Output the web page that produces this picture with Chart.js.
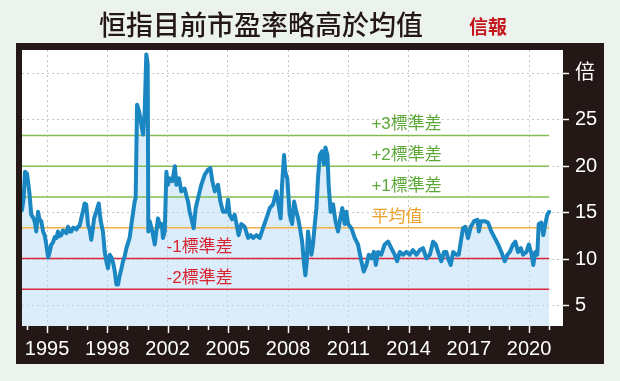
<!DOCTYPE html>
<html>
<head>
<meta charset="utf-8">
<title>恒指目前市盈率略高於均值</title>
<script src="https://cdn.jsdelivr.net/npm/chart.js@4.4.0/dist/chart.umd.min.js"></script>
<style>
  html, body { margin: 0; padding: 0; background: #ecf3ee; }
  canvas { display: block; }
</style>
</head>
<body>
<canvas id="peChart" width="620" height="381"></canvas>
<script>
const chartTitle = '恒指目前市盈率略高於均值';
const sourceName = '信報';

// position of each reading along the time axis (one unit per small tick mark)
const period = [
  -0.25, -0.17, -0.10, 0.00, 0.07, 0.13, 0.21, 0.30, 0.38, 0.46,
  0.55, 0.62, 0.71, 0.80, 0.88, 0.96, 1.05, 1.13, 1.21, 1.29,
  1.38, 1.47, 1.54, 1.62, 1.71, 1.79, 1.88, 1.96, 2.04, 2.13,
  2.21, 2.29, 2.38, 2.46, 2.54, 2.62, 2.70, 2.79, 2.87, 2.95,
  3.04, 3.12, 3.20, 3.26, 3.34, 3.45, 3.57, 3.67, 3.78, 3.87,
  3.95, 4.03, 4.12, 4.23, 4.30, 4.37, 4.45, 4.53, 4.62, 4.70,
  4.78, 4.86, 4.95, 5.11, 5.24, 5.36, 5.41, 5.48, 5.58, 5.69,
  5.78, 5.86, 5.94, 6.01, 6.04, 6.11, 6.18, 6.24, 6.36, 6.44,
  6.52, 6.64, 6.71, 6.77, 6.86, 6.94, 7.02, 7.11, 7.24, 7.36,
  7.44, 7.57, 7.68, 7.85, 7.94, 8.02, 8.10, 8.18, 8.30, 8.40,
  8.52, 8.68, 8.85, 9.01, 9.13, 9.23, 9.35, 9.51, 9.63, 9.76,
  9.93, 10.01, 10.09, 10.21, 10.34, 10.47, 10.54, 10.67, 10.84, 11.01,
  11.14, 11.26, 11.42, 11.59, 11.75, 11.92, 12.09, 12.25, 12.42, 12.50,
  12.63, 12.70, 12.80, 12.86, 12.96, 13.08, 13.20, 13.30, 13.41, 13.50,
  13.58, 13.70, 13.80, 13.86, 13.93, 13.99, 14.08, 14.16, 14.24, 14.33,
  14.41, 14.49, 14.58, 14.69, 14.79, 14.86, 14.96, 15.02, 15.12, 15.24,
  15.36, 15.49, 15.60, 15.70, 15.82, 15.90, 15.99, 16.15, 16.32, 16.48,
  16.65, 16.77, 16.90, 17.02, 17.15, 17.27, 17.37, 17.48, 17.64, 17.81,
  17.98, 18.14, 18.31, 18.43, 18.56, 18.73, 18.89, 19.06, 19.22, 19.39,
  19.56, 19.72, 19.89, 20.06, 20.22, 20.35, 20.47, 20.63, 20.77, 20.88,
  20.97, 21.10, 21.22, 21.38, 21.50, 21.60, 21.71, 21.83, 21.96, 22.10,
  22.26, 22.43, 22.50, 22.60, 22.79, 22.96, 23.12, 23.29, 23.46, 23.62,
  23.79, 23.92, 24.04, 24.20, 24.32, 24.45, 24.59, 24.70, 24.87, 24.99,
  25.12, 25.21, 25.31, 25.41, 25.48, 25.61, 25.71, 25.81, 25.91, 26.00
];

// Hang Seng Index P/E (倍)
const pe = [
  15.3, 16.5, 19.4, 19.2, 18.0, 16.9, 14.8, 14.5, 14.1, 13.0,
  15.1, 14.3, 14.1, 13.0, 12.6, 11.6, 10.2, 10.8, 11.6, 11.8,
  12.4, 12.3, 13.0, 12.5, 12.6, 13.1, 13.0, 12.8, 13.5, 13.0,
  13.0, 13.4, 13.35, 13.2, 13.5, 13.6, 14.4, 15.2, 16.0, 15.9,
  13.7, 13.2, 12.1, 13.0, 14.4, 15.1, 16.0, 14.1, 13.0, 10.8,
  9.8, 9.05, 10.5, 10.1, 9.5, 8.7, 7.3, 7.3, 8.3, 9.0,
  9.8, 10.3, 11.2, 12.3, 14.4, 16.2, 16.6, 26.6, 25.9, 24.5,
  23.4, 25.9, 32.0, 30.9, 13.0, 14.1, 13.5, 13.0, 11.6, 13.0,
  14.4, 13.5, 13.8, 12.3, 13.0, 19.4, 18.0, 18.7, 18.4, 20.0,
  18.0, 18.7, 17.3, 17.6, 16.8, 16.2, 15.1, 14.4, 13.35, 15.5,
  16.6, 18.0, 19.1, 19.6, 19.8, 18.4, 17.3, 18.0, 16.2, 15.1,
  15.1, 16.4, 14.8, 14.3, 14.8, 13.35, 12.6, 13.8, 13.5, 12.3,
  12.6, 12.3, 12.6, 12.3, 13.35, 14.4, 15.5, 15.9, 17.3, 16.2,
  14.4, 18.0, 21.2, 19.4, 18.7, 14.8, 13.8, 16.2, 15.1, 14.4,
  13.5, 11.9, 9.4, 8.3, 9.8, 13.0, 11.6, 10.5, 11.6, 13.8,
  15.5, 18.7, 21.2, 21.6, 20.2, 22.0, 21.2, 18.0, 15.1, 15.9,
  14.1, 13.0, 14.4, 15.5, 13.8, 15.1, 13.8, 13.35, 12.3, 11.6,
  9.8, 8.7, 9.4, 10.5, 10.1, 10.8, 9.4, 10.8, 10.5, 11.6,
  11.9, 11.2, 10.5, 9.8, 10.8, 10.5, 10.8, 10.5, 11.0, 10.5,
  11.0, 11.2, 10.1, 10.5, 11.9, 11.6, 10.8, 9.8, 10.8, 10.8,
  10.1, 9.4, 10.8, 10.5, 10.5, 11.9, 13.35, 13.5, 12.3, 13.5,
  14.1, 14.25, 13.0, 14.1, 14.1, 13.95, 13.0, 12.3, 11.6, 10.8,
  9.8, 10.5, 10.8, 11.6, 11.9, 10.8, 11.2, 10.5, 10.8, 11.6,
  10.6, 9.4, 10.8, 10.5, 13.8, 13.95, 12.6, 13.8, 14.8, 15.1
];

const yearLabels = ['1995', '1998', '2002', '2005', '2008', '2011', '2014', '2017', '2020'];
const yTicks = [5, 10, 15, 20, 25, 30];
const yUnit = '倍';

// mean and standard deviation bands
const bandNames = ['+3標準差', '+2標準差', '+1標準差', '平均值', '-1標準差', '-2標準差'];
const bandValues = [23.3, 20.0, 16.7, 13.4, 10.1, 6.8];

const cjk = '"Liberation Sans", "Noto Sans CJK TC", sans-serif';
const lineCol = { green: '#82bd55', orange: '#f2b048', red: '#d9283c' };
const textCol = { green: '#5ea838', orange: '#eca12c', red: '#d7232e' };
function bandKind(name) {
  if (name.startsWith('+')) return 'green';
  if (name.startsWith('-')) return 'red';
  return 'orange';
}

const lastPeriod = period[period.length - 1];

const bandSets = bandNames.map((name, i) => ({
  label: name,
  data: [{ x: period[0], y: bandValues[i] }, { x: lastPeriod, y: bandValues[i] }],
  borderColor: lineCol[bandKind(name)],
  borderWidth: 1.6,
  pointRadius: 0,
  fill: false,
  order: 1
}));

const framePlugin = {
  id: 'frame',
  beforeDraw(chart) {
    const { ctx, chartArea: a } = chart;
    ctx.save();
    ctx.fillStyle = '#ecf3ee';
    ctx.fillRect(0, 0, chart.width, chart.height);
    ctx.fillStyle = '#231815';
    ctx.fillRect(a.left - 6, a.top - 7, a.right - a.left + 47, a.bottom - a.top + 45);
    ctx.fillStyle = '#ffffff';
    ctx.fillRect(a.left, a.top, a.right - a.left, a.bottom - a.top);

    ctx.textAlign = 'center';
    ctx.textBaseline = 'middle';
    ctx.fillStyle = '#231815';
    ctx.font = '500 27px "Noto Sans CJK TC", sans-serif';
    ctx.fillText(chartTitle, 261, 25);
    ctx.fillStyle = '#c4161c';
    ctx.font = 'bold 19px "Noto Sans CJK TC", serif';
    ctx.fillText(sourceName, 488, 27);
    ctx.restore();
  },
  afterDraw(chart) {
    // small tick marks under the time axis
    const { ctx, chartArea: a, scales: { x } } = chart;
    ctx.save();
    ctx.strokeStyle = '#ffffff';
    ctx.lineWidth = 1.5;
    for (let t = 0; t <= Math.floor(lastPeriod); t++) {
      const px = Math.round(x.getPixelForValue(t)) + 0.5;
      const len = (t - 1) % 3 === 0 ? 7 : 4;
      ctx.beginPath();
      ctx.moveTo(px, a.bottom);
      ctx.lineTo(px, a.bottom + len);
      ctx.stroke();
    }
    ctx.restore();
  },
  afterDatasetsDraw(chart) {
    // band captions
    const { ctx, scales: { x, y } } = chart;
    ctx.save();
    ctx.font = '17px ' + cjk;
    ctx.textAlign = 'left';
    ctx.textBaseline = 'alphabetic';
    bandNames.forEach((name, i) => {
      const kind = bandKind(name);
      const at = kind === 'red' ? 6.95 : 17.15;
      ctx.fillStyle = textCol[kind];
      ctx.fillText(name, x.getPixelForValue(at), y.getPixelForValue(bandValues[i]) - 6);
    });
    ctx.restore();
  }
};

new Chart(document.getElementById('peChart'), {
  type: 'line',
  data: {
    datasets: [{
      label: '市盈率',
      data: period.map((t, i) => ({ x: t, y: pe[i] })),
      borderColor: '#1a87c3',
      borderWidth: 4,
      borderJoinStyle: 'round',
      borderCapStyle: 'round',
      backgroundColor: 'rgba(190,223,245,0.55)',
      fill: 'start',
      pointRadius: 0,
      tension: 0,
      order: 0
    }, ...bandSets]
  },
  options: {
    responsive: false,
    animation: false,
    devicePixelRatio: 1,
    layout: { padding: { left: 22, top: 50, right: 16, bottom: 17 } },
    plugins: {
      legend: { display: false },
      tooltip: { enabled: false },
      filler: { drawTime: 'beforeDatasetsDraw' }
    },
    scales: {
      x: {
        type: 'linear',
        min: -0.25,
        max: 26.69,
        afterFit(scale) { scale.height = 38; },
        afterBuildTicks(scale) {
          const ticks = [];
          for (let t = 0; t <= 26; t++) ticks.push({ value: t });
          scale.ticks = ticks;
        },
        ticks: {
          autoSkip: false,
          maxRotation: 0,
          padding: 11,
          color: '#ffffff',
          font: { family: '"Liberation Sans", sans-serif', size: 20 },
          callback: (v) => ((v - 1) % 3 === 0 ? yearLabels[(v - 1) / 3] : null)
        },
        grid: {
          drawTicks: false,
          lineWidth: 1,
          color: (c) => (c.tick && (c.tick.value - 1) % 3 === 0 ? '#c6c6c6' : 'rgba(0,0,0,0)')
        },
        border: { display: false, dash: [2, 3] }
      },
      y: {
        position: 'right',
        min: 2.85,
        max: 32.47,
        afterFit(scale) { scale.width = 41; },
        afterBuildTicks(scale) {
          scale.ticks = yTicks.map((v) => ({ value: v }));
        },
        ticks: {
          padding: 6,
          color: '#ffffff',
          font: { family: cjk, size: 20 },
          callback: (v) => (v === yTicks[yTicks.length - 1] ? yUnit : String(v))
        },
        grid: {
          color: '#c6c6c6',
          lineWidth: 1,
          tickLength: 6,
          tickColor: '#ffffff',
          tickWidth: 1.5
        },
        border: { display: false, dash: [2, 3] }
      }
    }
  },
  plugins: [framePlugin]
});
</script>
</body>
</html>
